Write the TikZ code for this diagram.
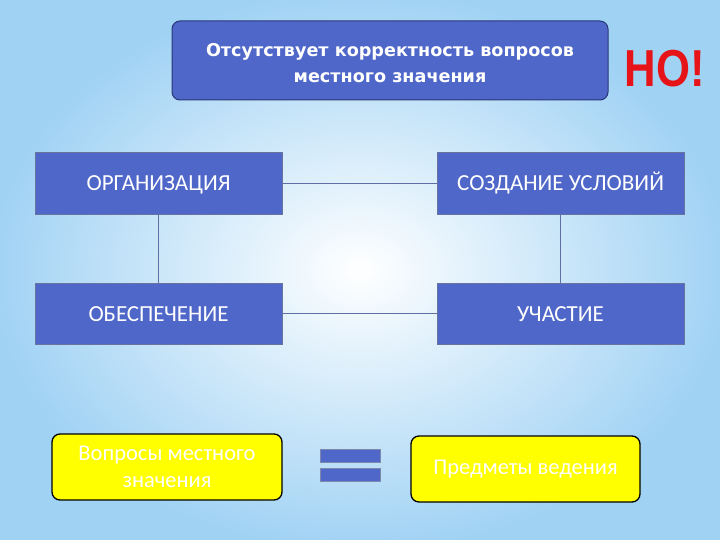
\documentclass[tikz,border=0pt]{standalone}
\usepackage{fontspec}
\setmainfont{Carlito}
\newfontfamily\topfont{DejaVu Sans}
\newfontfamily\boldfont{Liberation Sans}
\definecolor{boxblue}{RGB}{79,103,200}
\definecolor{navy}{RGB}{40,55,120}
\definecolor{linec}{RGB}{95,110,165}
\definecolor{bgout}{RGB}{160,210,244}
\definecolor{yel}{RGB}{255,255,0}
\definecolor{nored}{RGB}{230,20,25}
\begin{document}
\begin{tikzpicture}[x=1pt,y=-1pt,
  topbox/.style={draw=navy,line width=1pt,fill=boxblue,rounded corners=8pt},
  toptext/.style={text=white,align=center,font=\topfont\bfseries\fontsize{17.6}{25.5}\selectfont},
  rbox/.style={draw=navy!70,line width=0.6pt,fill=boxblue,text=white,font=\fontsize{23}{26}\selectfont,text height=15pt,text depth=0pt},
  ybox/.style={draw=black,line width=1.3pt,fill=yel,rounded corners=8pt,text=white,align=center,font=\fontsize{22.5}{27}\selectfont},
  conn/.style={draw=linec,line width=0.8pt},
  eqbar/.style={draw=navy!60,line width=0.5pt,fill=boxblue}]
\useasboundingbox (0,0) rectangle (720,540);
\shade[inner color=white,outer color=bgout] (-10,-10) rectangle (730,550);
% top box
\draw[topbox] (172,21) rectangle (608,100);
\node[toptext] (top) at (390,63) {Отсутствует корректность вопросов\\местного значения};
\node[text=nored,font=\boldfont\bfseries\fontsize{52}{52}\selectfont,xscale=0.84] (no) at (665,69) {НО!};
% four boxes
\node[rbox,minimum width=247pt,minimum height=62pt] (org) at (158.5,183) {ОРГАНИЗАЦИЯ};
\node[rbox,minimum width=247pt,minimum height=62pt] (sozd) at (560.5,183) {СОЗДАНИЕ УСЛОВИЙ};
\node[rbox,minimum width=247pt,minimum height=61pt] (obes) at (158.5,313.5) {ОБЕСПЕЧЕНИЕ};
\node[rbox,minimum width=247pt,minimum height=61pt] (uch) at (560.5,313.5) {УЧАСТИЕ};
\draw[conn] (org) -- (sozd);
\draw[conn] (obes) -- (uch);
\draw[conn] (org) -- (obes);
\draw[conn] (sozd) -- (uch);
% yellow boxes
\node[ybox,minimum width=230pt,minimum height=66pt] (vop) at (167,467) {Вопросы местного\\значения};
\node[ybox,minimum width=229pt,minimum height=66pt] (pred) at (525.5,469) {Предметы ведения};
% equals sign
\node[eqbar,minimum width=60pt,minimum height=13pt,inner sep=0pt] (eq1) at (350,455.5) {};
\node[eqbar,minimum width=60pt,minimum height=13pt,inner sep=0pt] (eq2) at (350,474.5) {};
\end{tikzpicture}
\end{document}
